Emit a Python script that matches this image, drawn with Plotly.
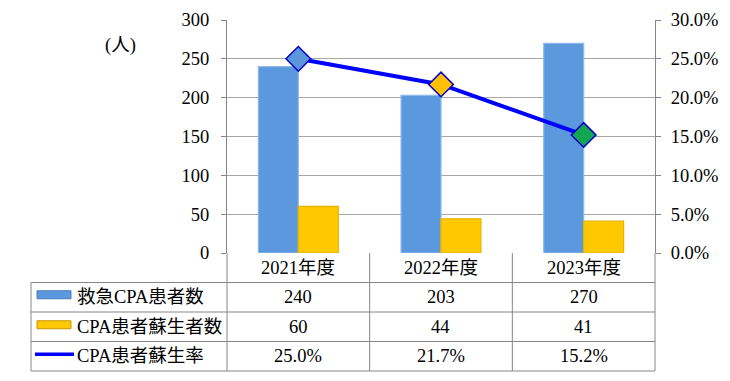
import plotly.graph_objects as go

# ---- data ----
categories = ["2021年度", "2022年度", "2023年度"]
series_names = ["救急CPA患者数", "CPA患者蘇生者数", "CPA患者蘇生率"]
patients = [240, 203, 270]
survivors = [60, 44, 41]
rates = [0.250, 0.217, 0.152]
left_ticks = [0, 50, 100, 150, 200, 250, 300]
unit_label = "(人)"

# ---- layout constants (screen pixels) ----
OFF = 8                     # page body margin
W, H = 730 - 2 * OFF, 381 - 2 * OFF
PL, PR, PT, PB = 227, 655, 20, 253
TABLE_L = 31
ROW_H = 29.5
FONT = "Liberation Serif, Noto Sans CJK JP, serif"
FS = 18.5
BLUE = "#5B98DE"
YELLOW = "#FFC800"
LINE = "#0000FF"
GRID = "#A6A6A6"
AXIS = "#868686"


def px(x):
    return (x - OFF) / W


def py(y):
    return 1 - (y - OFF) / H


fig = go.Figure()
fig.add_trace(go.Bar(x=categories, y=patients, name=series_names[0],
                     marker=dict(color=BLUE, line=dict(color="#8DB9EC", width=1.2))))
fig.add_trace(go.Bar(x=categories, y=survivors, name=series_names[1],
                     marker=dict(color=YELLOW, line=dict(color="#E8B400", width=1.2))))
fig.add_trace(go.Scatter(x=categories, y=rates, name=series_names[2], yaxis="y2",
                         mode="lines+markers",
                         line=dict(color=LINE, width=4),
                         marker=dict(symbol="diamond", size=19,
                                     color=["#5B96DC", "#FFC000", "#12A650"],
                                     line=dict(color="#0000CC", width=1.5))))

shapes = []
annotations = []

n = len(categories)
colw = (PR - PL) / n
row_tops = [PB + ROW_H * i for i in range(5)]


def hline(x0, x1, y):
    shapes.append(dict(type="line", xref="paper", yref="paper", x0=px(x0), x1=px(x1),
                       y0=py(y), y1=py(y), line=dict(color=AXIS, width=1)))


def vline(x, y0, y1):
    shapes.append(dict(type="line", xref="paper", yref="paper", x0=px(x), x1=px(x),
                       y0=py(y0), y1=py(y1), line=dict(color=AXIS, width=1)))


def text(x, y, s, xanchor="center"):
    annotations.append(dict(xref="paper", yref="paper", x=px(x), y=py(y), text=s,
                            showarrow=False, xanchor=xanchor, yanchor="middle",
                            font=dict(family=FONT, size=FS, color="black")))


for y in row_tops[1:]:
    hline(TABLE_L, PR, y)
for k in range(n + 1):
    vline(PL + k * colw, PB, row_tops[-1])
vline(TABLE_L, row_tops[1], row_tops[-1])

# header texts
for k, c in enumerate(categories):
    text(PL + (k + 0.5) * colw, PB + ROW_H / 2, c)

rows = [
    [str(v) for v in patients],
    [str(v) for v in survivors],
    [f"{v * 100:.1f}%" for v in rates],
]
for r, vals in enumerate(rows):
    yc = PB + ROW_H * (r + 1.5)
    text(75, yc, series_names[r], xanchor="left")
    for k, v in enumerate(vals):
        text(PL + (k + 0.5) * colw, yc, v)

# legend keys
yc1 = PB + ROW_H * 1.5 - 2.5
shapes.append(dict(type="rect", xref="paper", yref="paper", x0=px(37), x1=px(71),
                   y0=py(yc1 + 4), y1=py(yc1 - 4), fillcolor=BLUE,
                   line=dict(color="#4A7EBB", width=1)))
yc2 = PB + ROW_H * 2.5 - 2
shapes.append(dict(type="rect", xref="paper", yref="paper", x0=px(37), x1=px(71),
                   y0=py(yc2 + 4), y1=py(yc2 - 4), fillcolor=YELLOW,
                   line=dict(color="#C89600", width=1)))
yc3 = PB + ROW_H * 3.5 - 2
shapes.append(dict(type="line", xref="paper", yref="paper", x0=px(35), x1=px(74),
                   y0=py(yc3), y1=py(yc3), line=dict(color=LINE, width=3.5)))

text(120, 45, unit_label)

fig.update_layout(
    template="none",
    width=W, height=H, autosize=False,
    margin=dict(l=0, r=0, t=0, b=0, pad=0),
    paper_bgcolor="white", plot_bgcolor="white",
    showlegend=False,
    barmode="group", bargap=0.44, bargroupgap=0,
    xaxis=dict(domain=[px(PL), px(PR)], showticklabels=False, ticks="",
               showgrid=False, showline=False, zeroline=False, automargin=False,
               range=[-0.5, n - 0.5]),
    yaxis=dict(range=[0, 300], tickvals=left_ticks, showgrid=True, gridcolor=GRID,
               gridwidth=1, showline=True, linecolor=AXIS, linewidth=1,
               ticks="outside", ticklen=5, tickcolor=AXIS, zeroline=False,
               automargin=False,
               domain=[py(PB), py(PT)], ticklabelstandoff=8,
               tickfont=dict(family=FONT, size=FS, color="black")),
    yaxis2=dict(range=[0, 0.3], dtick=0.05, tickformat=".1%", overlaying="y",
                side="right", showgrid=False, showline=True, linecolor=AXIS,
                linewidth=1, ticks="outside", ticklen=5, tickcolor=AXIS,
                zeroline=False, ticklabelstandoff=6, automargin=False,
                tickfont=dict(family=FONT, size=FS, color="black")),
    shapes=shapes,
    annotations=annotations,
)

fig.write_html("out.html")
